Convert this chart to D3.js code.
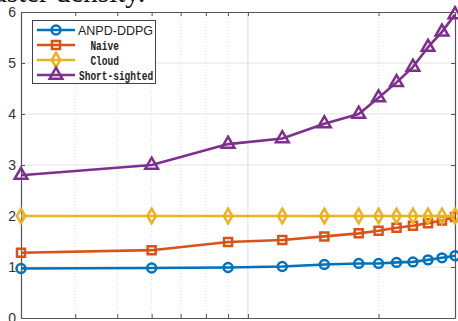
<!DOCTYPE html>
<html>
<head>
<meta charset="utf-8">
<script src="https://cdn.jsdelivr.net/npm/d3@7/dist/d3.min.js"></script>
<style>
  html, body { margin: 0; padding: 0; background: #fff; }
  svg { display: block; }
</style>
</head>
<body>
<svg id="chart" width="458" height="321"></svg>
<script>
// Data: x positions (log axis) and the four series
const xValues = [3, 6, 9, 12, 15, 18, 20, 22, 24, 26, 28, 30];
const anpdDdpg = [0.97, 0.98, 0.99, 1.01, 1.05, 1.07, 1.07, 1.09, 1.10, 1.14, 1.18, 1.22];
const naive = [1.28, 1.33, 1.49, 1.53, 1.60, 1.66, 1.71, 1.77, 1.81, 1.86, 1.91, 1.98];
const cloud = [2, 2, 2, 2, 2, 2, 2, 2, 2, 2, 2, 2];
const shortSighted = [2.80, 3.00, 3.41, 3.52, 3.81, 4.00, 4.32, 4.62, 4.92, 5.31, 5.61, 5.95];
const seriesNames = ["ANPD-DDPG", "  Naive", "  Cloud", "Short-sighted"];
const yTickValues = [0, 1, 2, 3, 4, 5, 6];
const xMajorTicks = [10];
const xMinorTicks = [4, 5, 6, 7, 8, 9, 20, 30];

const svg = d3.select("#chart");
const plot = { left: 21, right: 455, top: 12, bottom: 318 };

const x = d3.scaleLog().domain([3, 30]).range([plot.left, plot.right]);
const y = d3.scaleLinear().domain([0, 6]).range([plot.bottom, plot.top]);

// Caption text from the page above, mostly off the top edge
svg.append("text")
  .attr("x", -6).attr("y", 2)
  .attr("font-family", "Liberation Serif, serif")
  .attr("font-size", 29)
  .attr("fill", "#111")
  .text("aster density.");

const axisColor = "#555";
const gridColor = "#e3e3e3";

// Grid
const grid = svg.append("g");
grid.selectAll("line.yg").data(yTickValues.slice(1, -1)).join("line")
  .attr("x1", plot.left).attr("x2", plot.right)
  .attr("y1", d => y(d)).attr("y2", d => y(d))
  .attr("stroke", gridColor).attr("stroke-width", 1);
grid.selectAll("line.xmaj").data(xMajorTicks).join("line")
  .attr("y1", plot.top).attr("y2", plot.bottom)
  .attr("x1", d => x(d)).attr("x2", d => x(d))
  .attr("stroke", "#dcdcdc").attr("stroke-width", 1);
grid.selectAll("line.xmin").data(xMinorTicks.filter(d => d < 30)).join("line")
  .attr("y1", plot.top).attr("y2", plot.bottom)
  .attr("x1", d => x(d)).attr("x2", d => x(d))
  .attr("stroke", "#dedede").attr("stroke-width", 1)
  .attr("stroke-dasharray", "1,2");

// Axes (ticks pointing inward, box on)
const allXTicks = xMajorTicks.concat(xMinorTicks.filter(d => d < 30));
const axisFont = "Liberation Sans, Arial, sans-serif";

const yAxis = svg.append("g").attr("transform", `translate(${plot.left},0)`)
  .call(d3.axisLeft(y).tickValues(yTickValues).tickFormat(d3.format("d"))
    .tickSizeInner(-4).tickSizeOuter(0).tickPadding(5));
const yAxisR = svg.append("g").attr("transform", `translate(${plot.right},0)`)
  .call(d3.axisRight(y).tickValues(yTickValues).tickSizeInner(-4).tickSizeOuter(0).tickFormat(""));
const xAxisB = svg.append("g").attr("transform", `translate(0,${plot.bottom})`)
  .call(d3.axisBottom(x).tickValues(allXTicks).tickSizeInner(-4).tickSizeOuter(0).tickFormat(""));
const xAxisT = svg.append("g").attr("transform", `translate(0,${plot.top})`)
  .call(d3.axisTop(x).tickValues(allXTicks).tickSizeInner(-4).tickSizeOuter(0).tickFormat(""));

[yAxis, yAxisR, xAxisB, xAxisT].forEach(g => {
  g.select(".domain").attr("stroke", axisColor).attr("stroke-width", 1.2);
  g.selectAll(".tick line").attr("stroke", axisColor);
});
yAxis.selectAll(".tick text")
  .attr("font-family", axisFont).attr("font-size", 14).attr("fill", "#333");

// Series
const series = [
  { name: seriesNames[0], values: anpdDdpg, color: "#0072BD", marker: "circle" },
  { name: seriesNames[1], values: naive, color: "#D95319", marker: "square" },
  { name: seriesNames[2], values: cloud, color: "#EDB120", marker: "diamond" },
  { name: seriesNames[3], values: shortSighted, color: "#7E2F8E", marker: "triangle" }
];

const symbolFor = {
  circle: d3.symbol().type(d3.symbolCircle).size(62),
  square: d3.symbol().type(d3.symbolSquare).size(64),
  diamond: d3.symbol().type(d3.symbolDiamond).size(62),
  triangle: d3.symbol().type(d3.symbolTriangle).size(70)
};

const line = d3.line().x(d => x(d[0])).y(d => y(d[1]));

series.forEach(s => {
  const pts = xValues.map((xv, i) => [xv, s.values[i]]);
  svg.append("path").datum(pts)
    .attr("d", line).attr("fill", "none")
    .attr("stroke", s.color).attr("stroke-width", 2.6)
    .attr("stroke-linejoin", "round");
  svg.append("g").selectAll("path").data(pts).join("path")
    .attr("d", symbolFor[s.marker])
    .attr("transform", d => `translate(${x(d[0])},${y(d[1])})`)
    .attr("fill", "none").attr("stroke", s.color).attr("stroke-width", 2.5);
});

// Legend
const legend = svg.append("g");
legend.append("rect")
  .attr("x", 32.5).attr("y", 20.5).attr("width", 123).attr("height", 63)
  .attr("fill", "#fff").attr("stroke", "#444").attr("stroke-width", 1);
const rowY = [30, 45, 60, 75];
series.forEach((s, i) => {
  const ly = rowY[i];
  legend.append("line")
    .attr("x1", 37).attr("x2", 75).attr("y1", ly).attr("y2", ly)
    .attr("stroke", s.color).attr("stroke-width", 2.6);
  legend.append("path")
    .attr("d", symbolFor[s.marker])
    .attr("transform", `translate(56,${ly})`)
    .attr("fill", "none").attr("stroke", s.color).attr("stroke-width", 2.5);
  const t = legend.append("text")
    .attr("x", i === 0 ? 78 : 79).attr("y", ly + 4.5)
    .attr("fill", "#222")
    .attr("xml:space", "preserve")
    .style("white-space", "pre")
    .text(s.name);
  if (i === 0) {
    t.attr("font-family", axisFont).attr("font-size", 12.5);
  } else {
    t.attr("font-family", "Liberation Mono, monospace").attr("font-size", 12)
      .attr("font-weight", "bold")
      .attr("textLength", s.name.length * 5.7).attr("lengthAdjust", "spacingAndGlyphs");
  }
});
</script>
</body>
</html>
